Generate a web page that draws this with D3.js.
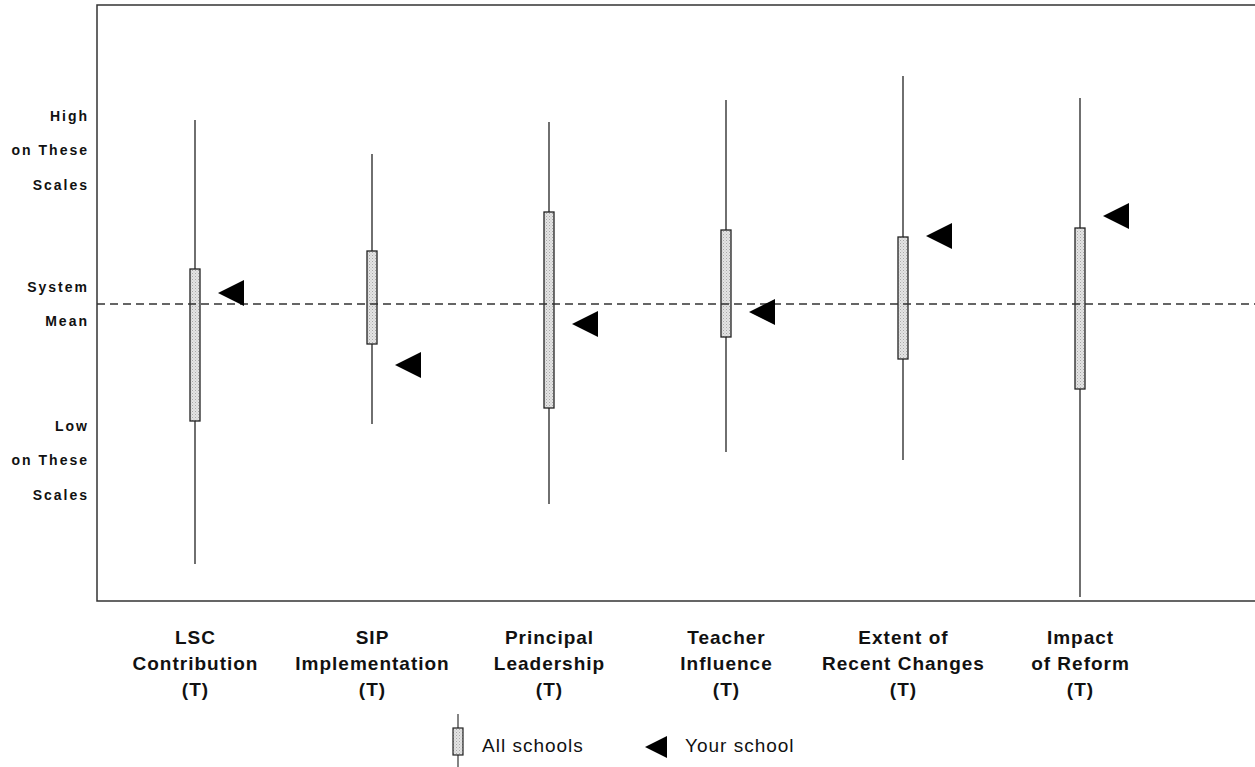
<!DOCTYPE html>
<html><head><meta charset="utf-8">
<script src="https://cdn.jsdelivr.net/npm/d3@7"></script>
<style>body{margin:0;background:#fff;} svg{display:block;font-family:"Liberation Sans",Arial,sans-serif;}</style>
</head><body>
<svg id="c" width="1255" height="767"></svg>
<script>
const categories = [
  ["LSC", "Contribution", "(T)"],
  ["SIP", "Implementation", "(T)"],
  ["Principal", "Leadership", "(T)"],
  ["Teacher", "Influence", "(T)"],
  ["Extent of", "Recent Changes", "(T)"],
  ["Impact", "of Reform", "(T)"]
];
// values relative to system mean (0)
const whiskerHigh = [1.84, 1.50, 1.82, 2.04, 2.28, 2.06];
const boxHigh     = [0.35, 0.53, 0.92, 0.74, 0.67, 0.76];
const boxLow      = [-1.17, -0.40, -1.04, -0.33, -0.55, -0.85];
const whiskerLow  = [-2.60, -1.20, -2.00, -1.48, -1.56, -2.93];
const yourSchool  = [0.11, -0.61, -0.20, -0.08, 0.68, 0.88];
const yTickLabels = [
  {v: 1.54, lines: ["High", "on These", "Scales"]},
  {v: 0.0, lines: ["System", "Mean"]},
  {v: -1.56, lines: ["Low", "on These", "Scales"]}
];

const svg = d3.select("#c");
const L = 97, T = 5, R = 1255, B = 601;
const y = d3.scaleLinear().domain([-2.97, 2.99]).range([B, T]);
const idx = d3.range(categories.length);
const x = d3.scalePoint().domain(idx).range([195, 1080]);

const defs = svg.append("defs");
const pat = defs.append("pattern").attr("id", "stip").attr("patternUnits", "userSpaceOnUse").attr("width", 3).attr("height", 3);
pat.append("rect").attr("width", 3).attr("height", 3).attr("fill", "#e4e4e4");
pat.append("rect").attr("x", 0).attr("y", 0).attr("width", 1).attr("height", 1).attr("fill", "#a8a8a8");
pat.append("rect").attr("x", 1.5).attr("y", 1.5).attr("width", 1).attr("height", 1).attr("fill", "#bdbdbd");

// frame
svg.append("path").attr("d", `M${R},${T}H${L}V${B}H${R}`).attr("fill", "none").attr("stroke", "#333").attr("stroke-width", 1.5);

// whiskers
svg.selectAll(".wh").data(idx).join("line")
  .attr("x1", i => x(i)).attr("x2", i => x(i))
  .attr("y1", i => y(whiskerHigh[i])).attr("y2", i => y(whiskerLow[i]))
  .attr("stroke", "#333").attr("stroke-width", 1.4);

// boxes
const bw = 10;
svg.selectAll(".bx").data(idx).join("rect")
  .attr("x", i => x(i) - bw / 2).attr("width", bw)
  .attr("y", i => y(boxHigh[i])).attr("height", i => y(boxLow[i]) - y(boxHigh[i]))
  .attr("fill", "url(#stip)").attr("stroke", "#222").attr("stroke-width", 1.3);

// mean dashed line
svg.append("line").attr("x1", L).attr("x2", R).attr("y1", y(0)).attr("y2", y(0))
  .attr("stroke", "#333").attr("stroke-width", 1.3).attr("stroke-dasharray", "8,5");

// your school triangles
const tri = (cx, cy, w, h) => `M${cx},${cy}L${cx + w},${cy - h / 2}L${cx + w},${cy + h / 2}Z`;
svg.selectAll(".tr").data(idx).join("path")
  .attr("d", i => tri(x(i) + 23, y(yourSchool[i]), 26, 26))
  .attr("fill", "#000");

// y labels
const yl = svg.append("g").attr("font-weight", "bold").attr("font-size", 14).attr("letter-spacing", 2)
  .attr("fill", "#111").attr("text-anchor", "end");
yTickLabels.forEach(t => {
  const n = t.lines.length;
  t.lines.forEach((s, k) => {
    yl.append("text").attr("x", 89).attr("y", y(t.v) + (k - (n - 1) / 2) * 34.5 + 5).text(s);
  });
});

// category labels
const xl = svg.append("g").attr("font-weight", "bold").attr("font-size", 19).attr("letter-spacing", 1)
  .attr("fill", "#111").attr("text-anchor", "middle");
idx.forEach(i => {
  categories[i].forEach((s, k) => {
    xl.append("text").attr("x", x(i) + 0.5).attr("y", 644 + k * 26).text(s);
  });
});

// legend
const lg = svg.append("g");
lg.append("line").attr("x1", 458).attr("x2", 458).attr("y1", 714).attr("y2", 767).attr("stroke", "#333").attr("stroke-width", 1.2);
lg.append("rect").attr("x", 453).attr("y", 728).attr("width", 10).attr("height", 27).attr("fill", "url(#stip)").attr("stroke", "#222").attr("stroke-width", 1.2);
lg.append("text").attr("x", 482).attr("y", 752).attr("font-size", 19).attr("letter-spacing", 1).attr("fill", "#111").text("All schools");
lg.append("path").attr("d", tri(645, 747, 22, 22)).attr("fill", "#000");
lg.append("text").attr("x", 685).attr("y", 752).attr("font-size", 19).attr("letter-spacing", 1).attr("fill", "#111").text("Your school");
</script>
</body></html>
